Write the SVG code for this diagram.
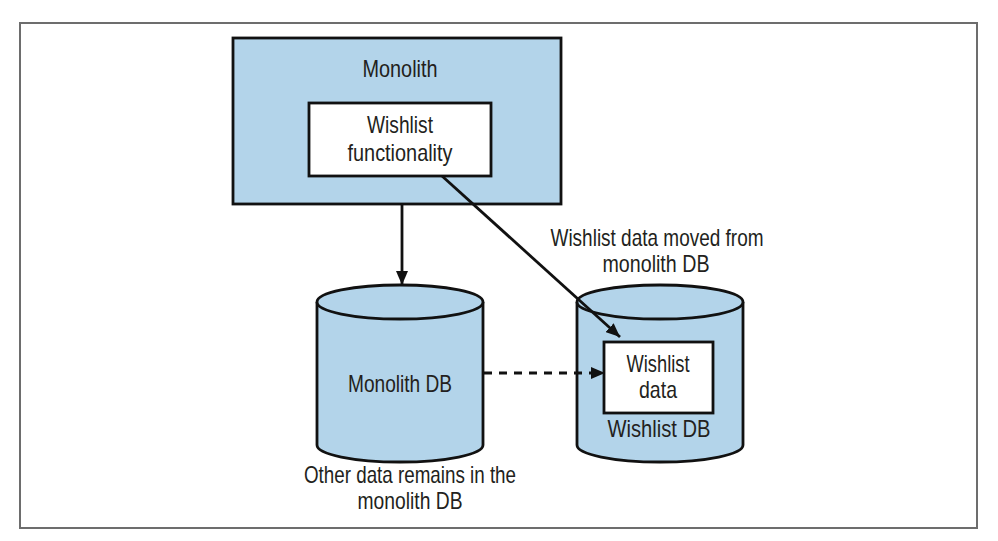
<svg xmlns="http://www.w3.org/2000/svg" width="998" height="541" viewBox="0 0 998 541">
<style>
  .t { font-family: "Liberation Sans", Arial, sans-serif; font-size: 24px; fill: #231f20; text-anchor: middle; }
  .blue { fill: #b3d4ea; stroke: #111; stroke-width: 2.8; }
  .white { fill: #ffffff; stroke: #111; stroke-width: 2.8; }
  .conn { fill: none; stroke: #111; stroke-width: 2.8; }
</style>
<defs>
  <marker id="arrow" viewBox="0 0 14 12" refX="14" refY="6" markerWidth="14" markerHeight="12" markerUnits="userSpaceOnUse" orient="auto">
    <path d="M0,0 L14,6 L0,12 Z" fill="#111"/>
  </marker>
</defs>
<rect x="0" y="0" width="998" height="541" fill="#ffffff"/>
<rect id="frame" x="20" y="23" width="957" height="505" fill="#ffffff" stroke="#6d6d6d" stroke-width="2"/>

<g id="monolith">
  <rect class="blue" x="233" y="38" width="328" height="166"/>
  <text class="t" x="400" y="77" textLength="75" lengthAdjust="spacingAndGlyphs">Monolith</text>
</g>
<g id="wishlist-functionality">
  <rect class="white" x="309" y="103" width="182" height="73"/>
  <text class="t" x="400" y="133" textLength="66" lengthAdjust="spacingAndGlyphs">Wishlist</text>
  <text class="t" x="400" y="161" textLength="105" lengthAdjust="spacingAndGlyphs">functionality</text>
</g>

<g id="monolith-db">
  <path class="blue" d="M317,302 V445 A83,17 0 0 0 483,445 V302"/>
  <ellipse class="blue" cx="400" cy="302" rx="83" ry="17"/>
  <text class="t" x="400" y="392" textLength="104" lengthAdjust="spacingAndGlyphs">Monolith DB</text>
</g>
<g id="monolith-db-note">
  <text class="t" x="410" y="483" textLength="212" lengthAdjust="spacingAndGlyphs">Other data remains in the</text>
  <text class="t" x="410" y="509" textLength="105" lengthAdjust="spacingAndGlyphs">monolith DB</text>
</g>

<g id="wishlist-db">
  <path class="blue" d="M577,302 V445 A83,17 0 0 0 743,445 V302"/>
  <ellipse class="blue" cx="660" cy="302" rx="83" ry="17"/>
  <text class="t" x="659" y="437" textLength="103" lengthAdjust="spacingAndGlyphs">Wishlist DB</text>
</g>
<g id="wishlist-data">
  <rect class="white" x="604" y="342" width="109" height="71"/>
  <text class="t" x="658" y="372" textLength="63" lengthAdjust="spacingAndGlyphs">Wishlist</text>
  <text class="t" x="658" y="398" textLength="38" lengthAdjust="spacingAndGlyphs">data</text>
</g>
<g id="wishlist-db-note">
  <text class="t" x="657" y="246" textLength="213" lengthAdjust="spacingAndGlyphs">Wishlist data moved from</text>
  <text class="t" x="656" y="272" textLength="107" lengthAdjust="spacingAndGlyphs">monolith DB</text>
</g>

<g id="connectors">
  <line class="conn" x1="402" y1="204" x2="402" y2="285" marker-end="url(#arrow)"/>
  <line class="conn" x1="442" y1="176" x2="620" y2="337" marker-end="url(#arrow)"/>
  <line class="conn" x1="484" y1="373" x2="605" y2="373" stroke-dasharray="8,7" marker-end="url(#arrow)"/>
</g>
</svg>
